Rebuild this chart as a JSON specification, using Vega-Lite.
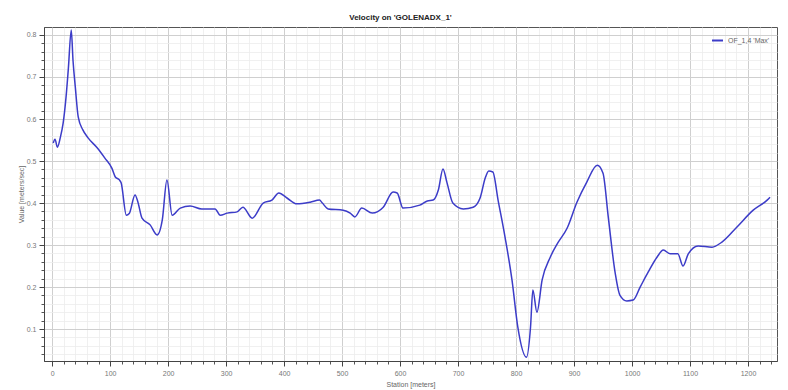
{
  "$schema": "https://vega.github.io/schema/vega-lite/v6.json",
  "autosize": "none",
  "width": 733,
  "height": 334,
  "padding": {"left": 44, "top": 27, "right": 11, "bottom": 29},
  "background": "white",
  "title": {"text": "Velocity on 'GOLENADX_1'", "fontSize": 8, "fontWeight": "bold", "font": "Liberation Sans", "color": "#222", "anchor": "middle", "offset": 5, "dx": -10},
  "config": {
    "view": {"stroke": "#555", "strokeWidth": 1},
    "axis": {"labelFont": "Liberation Sans", "titleFont": "Liberation Sans", "labelFontSize": 7, "titleFontSize": 7, "labelColor": "#777", "titleColor": "#666", "titleFontWeight": "normal", "domainColor": "#444", "tickColor": "#444"}
  },
  "data": {"values": [
    {"s": 2, "v": 0.543, "series": "OF_1,4 'Max'"},
    {"s": 5, "v": 0.552, "series": "OF_1,4 'Max'"},
    {"s": 9, "v": 0.533, "series": "OF_1,4 'Max'"},
    {"s": 14, "v": 0.555, "series": "OF_1,4 'Max'"},
    {"s": 19, "v": 0.59, "series": "OF_1,4 'Max'"},
    {"s": 24, "v": 0.652, "series": "OF_1,4 'Max'"},
    {"s": 28, "v": 0.72, "series": "OF_1,4 'Max'"},
    {"s": 33, "v": 0.812, "series": "OF_1,4 'Max'"},
    {"s": 36, "v": 0.74, "series": "OF_1,4 'Max'"},
    {"s": 40, "v": 0.676, "series": "OF_1,4 'Max'"},
    {"s": 45, "v": 0.605, "series": "OF_1,4 'Max'"},
    {"s": 53, "v": 0.574, "series": "OF_1,4 'Max'"},
    {"s": 62, "v": 0.555, "series": "OF_1,4 'Max'"},
    {"s": 78, "v": 0.531, "series": "OF_1,4 'Max'"},
    {"s": 91, "v": 0.507, "series": "OF_1,4 'Max'"},
    {"s": 103, "v": 0.483, "series": "OF_1,4 'Max'"},
    {"s": 109, "v": 0.462, "series": "OF_1,4 'Max'"},
    {"s": 116, "v": 0.455, "series": "OF_1,4 'Max'"},
    {"s": 119, "v": 0.448, "series": "OF_1,4 'Max'"},
    {"s": 128, "v": 0.371, "series": "OF_1,4 'Max'"},
    {"s": 133, "v": 0.375, "series": "OF_1,4 'Max'"},
    {"s": 143, "v": 0.419, "series": "OF_1,4 'Max'"},
    {"s": 148, "v": 0.402, "series": "OF_1,4 'Max'"},
    {"s": 155, "v": 0.364, "series": "OF_1,4 'Max'"},
    {"s": 169, "v": 0.348, "series": "OF_1,4 'Max'"},
    {"s": 181, "v": 0.324, "series": "OF_1,4 'Max'"},
    {"s": 190, "v": 0.36, "series": "OF_1,4 'Max'"},
    {"s": 198, "v": 0.455, "series": "OF_1,4 'Max'"},
    {"s": 207, "v": 0.371, "series": "OF_1,4 'Max'"},
    {"s": 221, "v": 0.388, "series": "OF_1,4 'Max'"},
    {"s": 238, "v": 0.393, "series": "OF_1,4 'Max'"},
    {"s": 258, "v": 0.386, "series": "OF_1,4 'Max'"},
    {"s": 281, "v": 0.386, "series": "OF_1,4 'Max'"},
    {"s": 290, "v": 0.371, "series": "OF_1,4 'Max'"},
    {"s": 302, "v": 0.376, "series": "OF_1,4 'Max'"},
    {"s": 319, "v": 0.379, "series": "OF_1,4 'Max'"},
    {"s": 329, "v": 0.39, "series": "OF_1,4 'Max'"},
    {"s": 345, "v": 0.364, "series": "OF_1,4 'Max'"},
    {"s": 364, "v": 0.4, "series": "OF_1,4 'Max'"},
    {"s": 379, "v": 0.407, "series": "OF_1,4 'Max'"},
    {"s": 391, "v": 0.424, "series": "OF_1,4 'Max'"},
    {"s": 405, "v": 0.412, "series": "OF_1,4 'Max'"},
    {"s": 422, "v": 0.398, "series": "OF_1,4 'Max'"},
    {"s": 445, "v": 0.402, "series": "OF_1,4 'Max'"},
    {"s": 461, "v": 0.407, "series": "OF_1,4 'Max'"},
    {"s": 466, "v": 0.4, "series": "OF_1,4 'Max'"},
    {"s": 476, "v": 0.386, "series": "OF_1,4 'Max'"},
    {"s": 502, "v": 0.383, "series": "OF_1,4 'Max'"},
    {"s": 514, "v": 0.376, "series": "OF_1,4 'Max'"},
    {"s": 522, "v": 0.367, "series": "OF_1,4 'Max'"},
    {"s": 534, "v": 0.388, "series": "OF_1,4 'Max'"},
    {"s": 552, "v": 0.376, "series": "OF_1,4 'Max'"},
    {"s": 571, "v": 0.39, "series": "OF_1,4 'Max'"},
    {"s": 588, "v": 0.426, "series": "OF_1,4 'Max'"},
    {"s": 595, "v": 0.424, "series": "OF_1,4 'Max'"},
    {"s": 605, "v": 0.388, "series": "OF_1,4 'Max'"},
    {"s": 634, "v": 0.395, "series": "OF_1,4 'Max'"},
    {"s": 647, "v": 0.405, "series": "OF_1,4 'Max'"},
    {"s": 657, "v": 0.407, "series": "OF_1,4 'Max'"},
    {"s": 666, "v": 0.431, "series": "OF_1,4 'Max'"},
    {"s": 674, "v": 0.481, "series": "OF_1,4 'Max'"},
    {"s": 681, "v": 0.448, "series": "OF_1,4 'Max'"},
    {"s": 691, "v": 0.4, "series": "OF_1,4 'Max'"},
    {"s": 709, "v": 0.386, "series": "OF_1,4 'Max'"},
    {"s": 726, "v": 0.39, "series": "OF_1,4 'Max'"},
    {"s": 738, "v": 0.412, "series": "OF_1,4 'Max'"},
    {"s": 747, "v": 0.46, "series": "OF_1,4 'Max'"},
    {"s": 753, "v": 0.476, "series": "OF_1,4 'Max'"},
    {"s": 760, "v": 0.474, "series": "OF_1,4 'Max'"},
    {"s": 769, "v": 0.407, "series": "OF_1,4 'Max'"},
    {"s": 781, "v": 0.319, "series": "OF_1,4 'Max'"},
    {"s": 793, "v": 0.217, "series": "OF_1,4 'Max'"},
    {"s": 803, "v": 0.105, "series": "OF_1,4 'Max'"},
    {"s": 818, "v": 0.033, "series": "OF_1,4 'Max'"},
    {"s": 825, "v": 0.105, "series": "OF_1,4 'Max'"},
    {"s": 829, "v": 0.193, "series": "OF_1,4 'Max'"},
    {"s": 836, "v": 0.14, "series": "OF_1,4 'Max'"},
    {"s": 845, "v": 0.217, "series": "OF_1,4 'Max'"},
    {"s": 859, "v": 0.271, "series": "OF_1,4 'Max'"},
    {"s": 872, "v": 0.305, "series": "OF_1,4 'Max'"},
    {"s": 888, "v": 0.34, "series": "OF_1,4 'Max'"},
    {"s": 905, "v": 0.402, "series": "OF_1,4 'Max'"},
    {"s": 922, "v": 0.45, "series": "OF_1,4 'Max'"},
    {"s": 940, "v": 0.49, "series": "OF_1,4 'Max'"},
    {"s": 950, "v": 0.471, "series": "OF_1,4 'Max'"},
    {"s": 959, "v": 0.367, "series": "OF_1,4 'Max'"},
    {"s": 971, "v": 0.233, "series": "OF_1,4 'Max'"},
    {"s": 979, "v": 0.181, "series": "OF_1,4 'Max'"},
    {"s": 991, "v": 0.167, "series": "OF_1,4 'Max'"},
    {"s": 1002, "v": 0.169, "series": "OF_1,4 'Max'"},
    {"s": 1014, "v": 0.2, "series": "OF_1,4 'Max'"},
    {"s": 1028, "v": 0.236, "series": "OF_1,4 'Max'"},
    {"s": 1043, "v": 0.271, "series": "OF_1,4 'Max'"},
    {"s": 1054, "v": 0.288, "series": "OF_1,4 'Max'"},
    {"s": 1066, "v": 0.279, "series": "OF_1,4 'Max'"},
    {"s": 1079, "v": 0.279, "series": "OF_1,4 'Max'"},
    {"s": 1088, "v": 0.25, "series": "OF_1,4 'Max'"},
    {"s": 1097, "v": 0.279, "series": "OF_1,4 'Max'"},
    {"s": 1114, "v": 0.298, "series": "OF_1,4 'Max'"},
    {"s": 1138, "v": 0.295, "series": "OF_1,4 'Max'"},
    {"s": 1155, "v": 0.307, "series": "OF_1,4 'Max'"},
    {"s": 1181, "v": 0.343, "series": "OF_1,4 'Max'"},
    {"s": 1209, "v": 0.383, "series": "OF_1,4 'Max'"},
    {"s": 1233, "v": 0.407, "series": "OF_1,4 'Max'"},
    {"s": 1238, "v": 0.414, "series": "OF_1,4 'Max'"}
  ]},
  "resolve": {"axis": {"x": "independent", "y": "independent"}},
  "layer": [
    {
      "mark": {"type": "line", "strokeOpacity": 0},
      "encoding": {
        "x": {"field": "s", "type": "quantitative", "scale": {"domain": [-14, 1250], "nice": false, "zero": false},
          "axis": {"orient": "bottom", "values": [20,40,60,80,120,140,160,180,220,240,260,280,320,340,360,380,420,440,460,480,520,540,560,580,620,640,660,680,720,740,760,780,820,840,860,880,920,940,960,980,1020,1040,1060,1080,1120,1140,1160,1180,1220,1240], "labels": false, "title": null, "domain": false, "grid": true, "gridColor": "#ececec", "gridWidth": 0.8, "tickSize": 3, "tickColor": "#555"}},
        "y": {"field": "v", "type": "quantitative", "scale": {"domain": [0.024, 0.819], "nice": false, "zero": false},
          "axis": {"orient": "left", "values": [0.04,0.06,0.08,0.12,0.14,0.16,0.18,0.22,0.24,0.26,0.28,0.32,0.34,0.36,0.38,0.42,0.44,0.46,0.48,0.52,0.54,0.56,0.58,0.62,0.64,0.66,0.68,0.72,0.74,0.76,0.78], "labels": false, "title": null, "domain": false, "grid": true, "gridColor": "#ececec", "gridWidth": 0.8, "tickSize": 3, "tickColor": "#555"}}
      }
    },
    {
      "mark": {"type": "line", "strokeWidth": 1.5, "interpolate": "monotone"},
      "encoding": {
        "x": {"field": "s", "type": "quantitative", "scale": {"domain": [-14, 1250], "nice": false, "zero": false},
          "axis": {"orient": "bottom", "values": [0,100,200,300,400,500,600,700,800,900,1000,1100,1200], "format": "d", "title": "Station [meters]", "titlePadding": 4, "grid": true, "gridColor": "#cfcfcf", "gridWidth": 1, "tickSize": 5, "labelPadding": 3, "domainColor": "#444"}},
        "y": {"field": "v", "type": "quantitative", "scale": {"domain": [0.024, 0.819], "nice": false, "zero": false},
          "axis": {"orient": "left", "values": [0.1,0.2,0.3,0.4,0.5,0.6,0.7,0.8], "format": ".1f", "title": "Value [meters/sec]", "titlePadding": 2, "grid": true, "gridColor": "#cfcfcf", "gridWidth": 1, "tickSize": 5, "labelPadding": 3, "domainColor": "#444"}},
        "color": {"field": "series", "type": "nominal", "scale": {"range": ["#3c3cc8"]},
          "legend": {"orient": "top-right", "title": null, "symbolType": "stroke", "symbolSize": 120, "symbolStrokeWidth": 2, "labelFont": "Liberation Sans", "labelFontSize": 7, "labelColor": "#666", "offset": 5, "padding": 2}}
      }
    }
  ]
}
